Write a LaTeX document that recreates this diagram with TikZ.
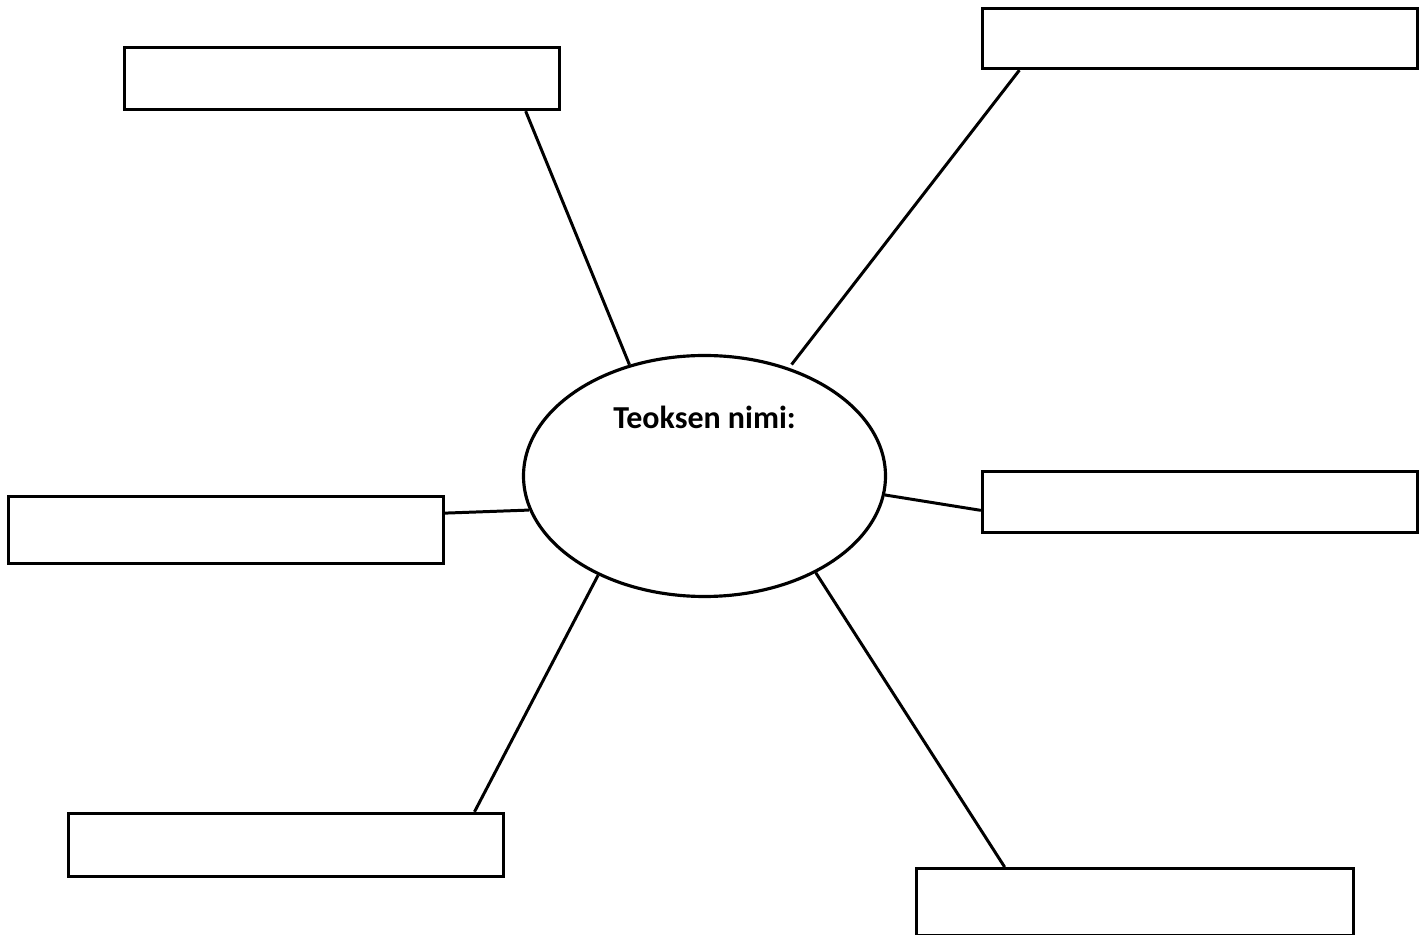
\documentclass[tikz,border=0pt]{standalone}
\usepackage{fontspec}
\setmainfont{Carlito}
\usepackage{tikz}
\usetikzlibrary{shapes.geometric}
\usetikzlibrary{calc}

\begin{document}
\begin{tikzpicture}[
        slot/.style={draw,line width=1.9pt,minimum width=8.7cm,inner sep=0pt},
        spoke/.style={line width=1.7pt}]
                \useasboundingbox (0,0) rectangle (28.54,18.7);

                \node[ellipse,draw,line width=1.8pt,minimum width=7.24cm,minimum height=4.82cm,inner sep=0pt] (work) at (14.09,9.18) {};
                \node[anchor=base,font=\fontsize{18.2}{22}\selectfont\bfseries] (worktitle) at (14.09,10.12) {Teoksen nimi:};

                \node[slot,minimum height=1.24cm] (topleft) at (6.84,17.13) {};
                \node[slot,minimum height=1.20cm] (topright) at (24.0,17.93) {};
                \node[slot,minimum height=1.34cm] (left) at (4.52,8.10) {};
                \node[slot,minimum height=1.22cm] (right) at (24.0,8.66) {};
                \node[slot,minimum height=1.26cm] (botleft) at (5.72,1.80) {};
                \node[slot,minimum height=1.33cm,minimum width=8.74cm] (botright) at (22.7,0.66) {};

                \draw[spoke] ($(topleft.south west)!0.919!(topleft.south east)$)--(work.124.3);
                \draw[spoke] ($(topright.south west)!0.088!(topright.south east)$)--($(work.center)!1.03!(work.52.6)$);
                \draw[spoke] ($(left.north east)!0.26!(left.south east)$)--(work.191);
                \draw[spoke] ($(right.north west)!0.63!(right.south west)$)--(work.354.3);
                \draw[spoke] ($(botleft.north west)!0.93!(botleft.north east)$)--(work.223.5);
                \draw[spoke] ($(botright.north west)!0.204!(botright.north east)$)--(work.319.2);
            \end{tikzpicture}
\end{document}
